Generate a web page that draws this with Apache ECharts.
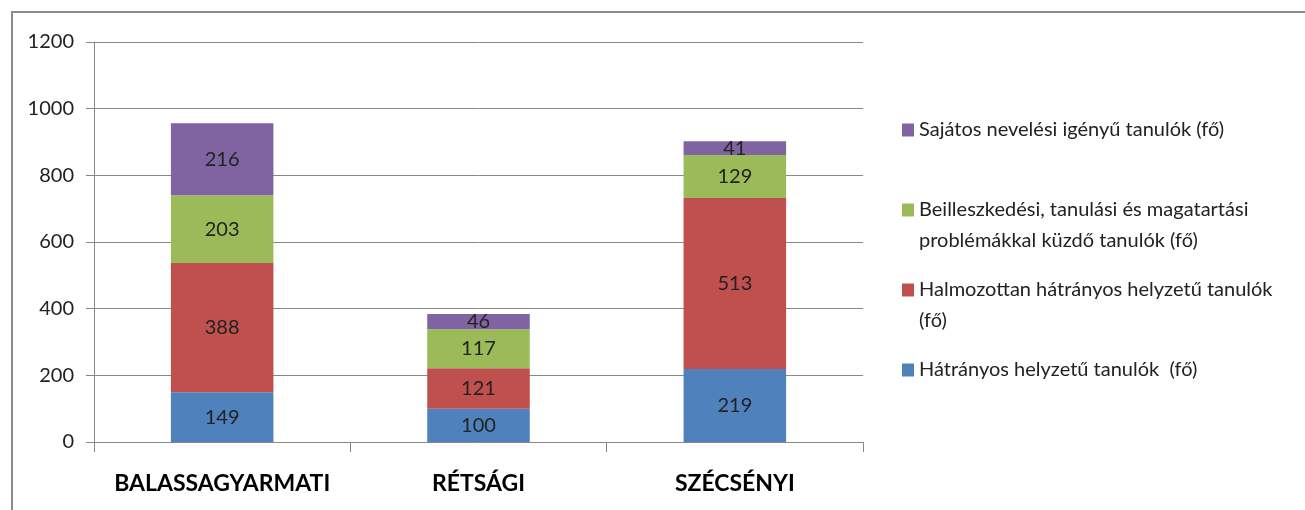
<!DOCTYPE html>
<html><head><meta charset="utf-8">
<script src="https://cdn.jsdelivr.net/npm/echarts@6/dist/echarts.min.js"></script>
<style>html,body{margin:0;padding:0;background:#fff}#c{width:1305px;height:510px}</style>
</head><body><div id="c"></div>
<script>
const categories = ['BALASSAGYARMATI', 'RÉTSÁGI', 'SZÉCSÉNYI'];
const hatranyos = [149, 100, 219];
const halmozottan = [388, 121, 513];
const beilleszkedesi = [203, 117, 129];
const sajatos = [216, 46, 41];
const seriesNames = [
  'Hátrányos helyzetű tanulók  (fő)',
  'Halmozottan hátrányos helyzetű tanulók\n(fő)',
  'Beilleszkedési, tanulási és magatartási\nproblémákkal küzdő tanulók (fő)',
  'Sajátos nevelési igényű tanulók (fő)'
];
const seriesData = [hatranyos, halmozottan, beilleszkedesi, sajatos];
const colors = ['#4F81BD', '#C0504D', '#9BBB59', '#8064A2'];
const yTicks = {min: 0, max: 1200, interval: 200};

const FONT = 'Lato, "Open Sans", sans-serif';
const LFS = 20;
const legendIconY = [370, 290, 210, 130];
const legends = seriesNames.map((n, i) => {
  const multi = n.indexOf('\n') >= 0;
  return {
    data: [n], left: 902, top: legendIconY[i] - (multi ? 31 : 15.5), orient: 'vertical',
    icon: 'rect', itemWidth: 12, itemHeight: 13, itemGap: 0,
    padding: 0, selectedMode: false,
    formatter: function (name) {
      if (name.indexOf('\n') < 0) return name;
      const p = name.split('\n');
      return '{a|' + p[0] + '}\n{b|' + p[1] + '}';
    },
    textStyle: {fontFamily: FONT, fontSize: LFS, color: '#222', lineHeight: 31,
      rich: {
        a: {fontFamily: FONT, fontSize: LFS, color: '#222', lineHeight: 61},
        b: {fontFamily: FONT, fontSize: LFS, color: '#222', lineHeight: 1}
      }}
  };
});

const chart = echarts.init(document.getElementById('c'));
chart.setOption({
  animation: false,
  color: colors,
  graphic: [{type: 'rect', shape: {x: 12, y: 12, width: 1400, height: 600},
    style: {fill: 'none', stroke: '#8c8c8c', lineWidth: 2}, silent: true}],
  legend: legends,
  grid: {left: 94, right: 442, top: 42, bottom: 68},
  xAxis: {
    type: 'category', data: categories,
    axisLine: {lineStyle: {color: '#888', width: 1}},
    axisTick: {show: true, length: 10, lineStyle: {color: '#888'}},
    axisLabel: {fontFamily: FONT, fontWeight: 'bold', fontSize: 23, color: '#000', margin: 30, interval: 0}
  },
  yAxis: {
    type: 'value', min: yTicks.min, max: yTicks.max, interval: yTicks.interval,
    axisLine: {show: true, lineStyle: {color: '#888'}},
    axisTick: {show: true, length: 8, lineStyle: {color: '#888'}},
    splitLine: {lineStyle: {color: '#888', width: 1}},
    axisLabel: {fontFamily: FONT, fontSize: 20, color: '#222', margin: 20,
      formatter: v => String(v)}
  },
  series: seriesData.map((d, i) => ({
    name: seriesNames[i], type: 'bar', stack: 'total', data: d,
    barWidth: '40%',
    label: {show: true, position: 'inside', fontFamily: FONT, fontSize: 20, color: '#222'}
  }))
});
</script></body></html>
